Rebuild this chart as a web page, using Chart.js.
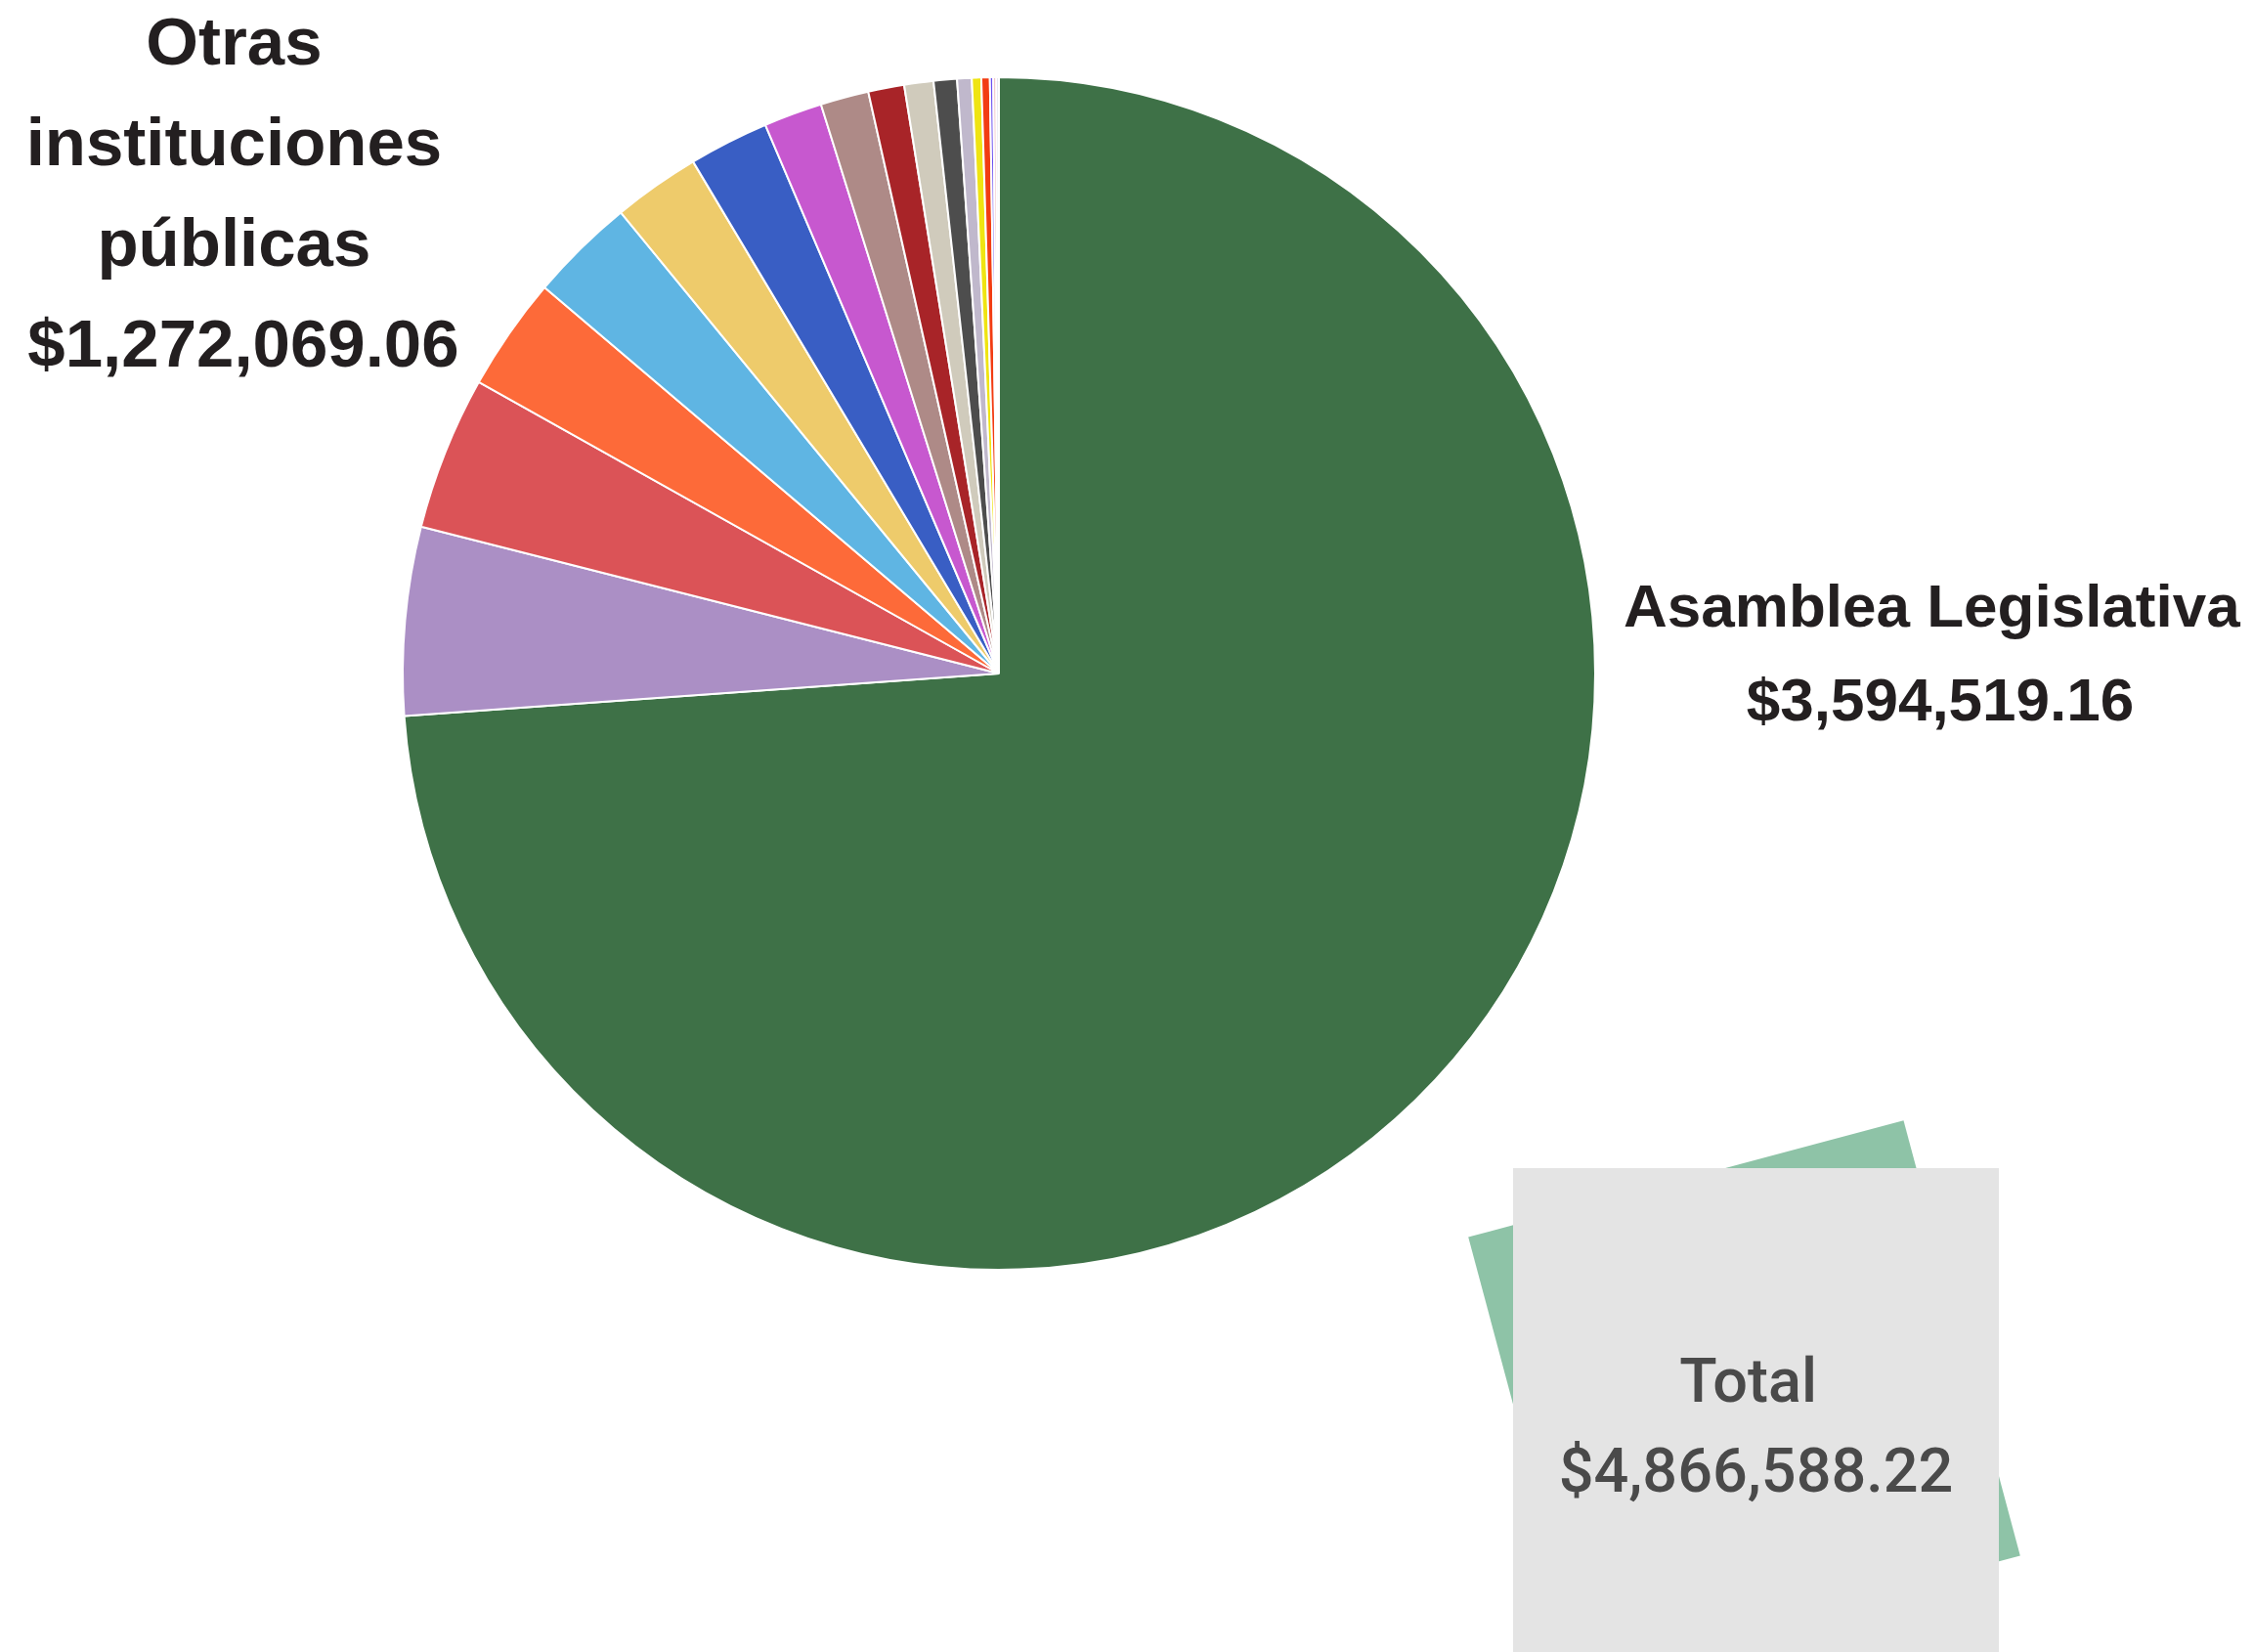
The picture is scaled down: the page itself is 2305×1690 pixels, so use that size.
<!DOCTYPE html>
<html lang="es">
<head>
<meta charset="utf-8">
<title>Presupuesto por institución</title>
<script src="https://cdn.jsdelivr.net/npm/chart.js@4.4.1/dist/chart.umd.min.js"></script>
<style>
    html, body {
        margin: 0;
        padding: 0;
        background: #ffffff;
    }
    #stage {
        position: relative;
        width: 2305px;
        height: 1690px;
        overflow: hidden;
    }
    #pieChart {
        position: absolute;
        left: 0;
        top: 0;
        z-index: 2;
    }
    .label {
        position: absolute;
        font-family: "Liberation Sans", Arial, sans-serif;
        font-weight: 700;
        color: #231f20;
        text-align: center;
        white-space: pre;
        z-index: 3;
    }
    #labelOtras {
        left: -51px;
        top: -9px;
        width: 600px;
        font-size: 69px;
        line-height: 103px;
    }
    #labelAsamblea {
        left: 1635px;
        top: 572px;
        width: 700px;
        font-size: 62px;
        line-height: 96px;
    }
    #totalBack {
        position: absolute;
        left: 1554px;
        top: 1198px;
        width: 461px;
        height: 461px;
        background: #8ec3a7;
        transform: rotate(-15deg);
        z-index: 0;
    }
    #totalBox {
        position: absolute;
        left: 1548px;
        top: 1195px;
        width: 497px;
        height: 495px;
        background: #e4e4e4;
        z-index: 1;
    }
    #totalText {
        position: absolute;
        left: 0;
        top: 172px;
        width: 100%;
        font-family: Roboto, "Noto Sans", sans-serif;
        font-weight: 500;
        font-size: 63px;
        line-height: 92px;
        color: #4a4a4a;
        text-align: center;
        white-space: pre;
    }
</style>
</head>
<body>
<div id="stage">
    <div id="totalBack"></div>
    <div id="totalBox"><div id="totalText"></div></div>
    <canvas id="pieChart" width="2305" height="1690"></canvas>
    <div class="label" id="labelOtras"></div>
    <div class="label" id="labelAsamblea"></div>
</div>

<script>
// Slices, clockwise from 12 o'clock
const institutions = [
    'Asamblea Legislativa',
    'Institución 2', 'Institución 3', 'Institución 4', 'Institución 5',
    'Institución 6', 'Institución 7', 'Institución 8', 'Institución 9',
    'Institución 10', 'Institución 11', 'Institución 12', 'Institución 13',
    'Institución 14', 'Institución 15', 'Institución 16', 'Institución 17',
    'Institución 18',
];

// Amounts in dollars (small slices)
const amounts = [
    3594519.16,
    248000, 202700, 149800, 139100,
    114900, 105400, 77000, 63600,
    47450, 38500, 30700, 19200,
    12400, 11150, 4400, 4000,
    3400,
];

const sliceColors = [
    '#3e7147',
    '#ab8fc5', '#db5357', '#fd6a39', '#5fb5e3',
    '#eecb6b', '#395ec4', '#c758cf', '#ae8a87',
    '#a82428', '#d0cbbc', '#4d4d4d', '#c0b8cc',
    '#efe412', '#f23c12', '#6b50f0', '#eeb4bc',
    '#dcdce8',
];

// Summary texts
const mainLabel = 'Asamblea Legislativa';
const otherLabel = 'Otras instituciones públicas';
const totalLabel = 'Total';

const money = (v) => '$' + v.toLocaleString('en-US', {
    minimumFractionDigits: 2,
    maximumFractionDigits: 2,
});

const total = 4866588.22;
const mainAmount = amounts[0];
const otherAmount = 1272069.06;

// Text blocks (trailing spaces kept on purpose, like the original)
document.getElementById('labelOtras').textContent =
    otherLabel.replace(' ', ' \n').replace(' públicas', ' \npúblicas') + ' \n' + money(otherAmount);
document.getElementById('labelAsamblea').textContent =
    mainLabel + ' \n' + money(mainAmount);
document.getElementById('totalText').textContent =
    totalLabel + ' \n' + money(total);

const ctx = document.getElementById('pieChart');

new Chart(ctx, {
    type: 'pie',
    data: {
        labels: institutions,
        datasets: [{
            data: amounts,
            backgroundColor: sliceColors,
            borderColor: '#ffffff',
            borderWidth: 2,
        }]
    },
    options: {
        responsive: false,
        animation: false,
        devicePixelRatio: 1,
        layout: {
            padding: {
                left: 411,
                right: 672,
                top: 78,
                bottom: 390,
            }
        },
        plugins: {
            legend: {
                display: false,
            },
            tooltip: {
                enabled: false,
            }
        }
    }
});
</script>
</body>
</html>
